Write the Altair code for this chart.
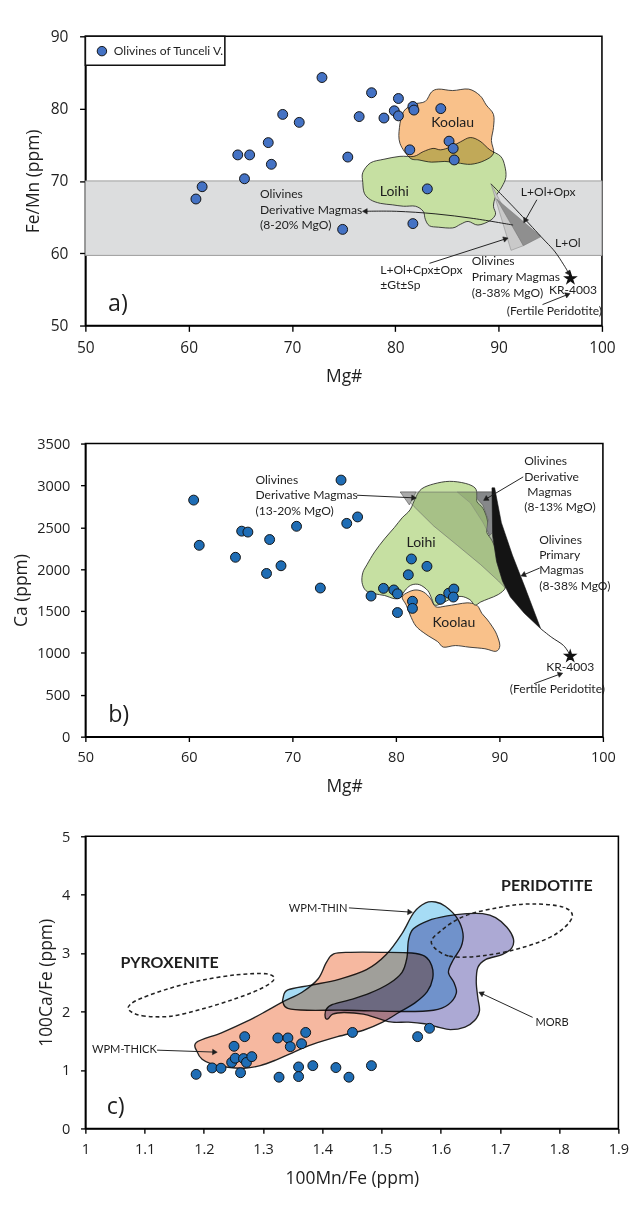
import math
import altair as alt
import pandas as pd

AX = "Open Sans"
AN = "Lato"
INK = "#1e1e1e"

# ---------------- Panel a data ----------------
a_mg = [60.7, 61.3, 64.75, 65.9, 65.4, 67.7, 68.0, 69.1, 70.7, 72.9, 75.4, 74.9, 76.5, 77.7,
        78.9, 79.9, 80.3, 80.3, 81.7, 81.8, 84.4, 81.4, 85.2, 85.6, 85.7, 83.1, 81.7]
a_femn = [67.5, 69.2, 73.6, 73.6, 70.3, 75.3, 72.3, 79.2, 78.1, 84.3, 73.3, 63.3, 78.9, 82.2,
          78.7, 79.7, 81.4, 79.0, 80.3, 79.8, 80.0, 74.3, 75.5, 74.5, 72.9, 68.9, 64.1]
a_band = [59.7, 70.0]
a_koolau_x = [81.4, 80.45, 80.4, 80.8, 81.8, 82.9, 83.5, 84.2, 85.55, 87.1, 88.2, 88.8, 89.5,
              89.5, 89.3, 89.5, 88.6, 87.3, 86.0, 84.8, 83.5, 82.3]
a_koolau_y = [73.2, 75.2, 77.4, 79.6, 80.6, 81.0, 82.3, 82.7, 82.5, 82.7, 81.8, 80.5, 79.2,
              77.4, 75.6, 73.8, 72.8, 72.3, 72.5, 72.7, 72.6, 72.9]
a_loihi_x = [76.85, 77.6, 78.9, 80.45, 81.8, 82.7, 83.65, 84.4, 85.35, 86.3, 87.25, 88.2, 89.15,
             90.2, 90.6, 90.7, 90.3, 89.7, 89.5, 89.7, 89.15, 88.0, 87.05, 86.3, 85.55, 84.2,
             83.3, 82.9, 82.7, 81.95, 80.8, 79.7, 78.55, 77.6, 77.0, 76.85]
a_loihi_y = [71.16, 72.5, 73.0, 73.4, 73.4, 74.05, 74.5, 74.3, 74.7, 75.4, 76.0, 75.5, 74.3,
             73.4, 72.05, 70.5, 69.15, 67.8, 66.5, 65.4, 64.5, 63.9, 64.4, 64.0, 63.5, 63.6,
             63.8, 64.7, 65.8, 66.5, 66.5, 66.7, 66.9, 67.4, 68.3, 69.8]
a_light_x = [89.26, 91.2, 92.4]
a_light_y = [69.6, 60.4, 61.05]
a_dark_x = [89.8, 92.4, 94.1]
a_dark_y = [67.5, 61.05, 62.3]
a_star = [96.95, 56.5]
a_legend_box = [50.0, 63.5, 86.0, 90.0]
a_legend_pt = [51.6, 87.95]
a_arrows = [
    ([91.4, 87.6, 83.85, 80.1, 77.05], [63.9, 64.8, 65.45, 65.8, 65.8]),
    ([93.7, 92.55], [67.4, 64.5]),
    ([83.3, 90.7], [58.6, 62.0]),
    ([94.25, 96.7], [52.9, 54.3]),
    ([89.26, 91.7, 94.1, 95.4, 96.3, 96.8], [69.6, 66.0, 62.3, 60.3, 58.4, 57.2]),
]
a_text_left = [("Olivines", 66.9, 68.2), ("Derivative Magmas", 66.9, 66.0), ("(8-20% MgO)", 66.9, 63.9),
               ("L+Ol+Cpx±Opx", 78.55, 57.7), ("±Gt±Sp", 78.55, 55.6),
               ("Olivines", 87.4, 58.9), ("Primary Magmas", 87.4, 56.7), ("(8-38% MgO)", 87.4, 54.5)]
a_text_center = [("L+Ol+Opx", 94.8, 68.5), ("L+Ol", 96.7, 61.4), ("KR-4003", 97.2, 54.9),
                 ("(Fertile Peridotite)", 95.4, 52.0)]
a_names = [("Koolau", 85.55, 78.0), ("Loihi", 79.9, 68.5)]

# ---------------- Panel b data ----------------
b_mg = [60.46, 61.0, 64.5, 65.1, 65.7, 67.8, 67.5, 68.9, 70.4, 72.7, 74.7, 75.25, 76.3, 77.6,
        78.8, 79.8, 80.15, 80.15, 81.5, 83.0, 81.2, 81.6, 81.6, 84.3, 85.1, 85.6, 85.55]
b_ca = [2825, 2285, 2142, 2454, 2443, 2354, 1949, 2041, 2512, 1775, 3064, 2547, 2624, 1679,
        1771, 1752, 1706, 1482, 2122, 2034, 1933, 1617, 1532, 1640, 1713, 1763, 1667]
b_loihi_x = [81.37, 81.94, 82.5, 83.65, 85.17, 86.7, 87.64, 87.83, 87.83, 88.4, 88.78, 88.9,
             88.78, 89.28, 89.73, 90.11, 90.42, 90.57, 89.9, 88.97, 88.2, 87.64, 87.15, 86.3,
             85.36, 84.4, 83.76, 83.46, 83.08, 82.3, 81.56, 81.0, 80.4, 79.85, 78.9, 77.95,
             77.1, 76.73, 76.8, 77.2, 77.95, 78.9, 79.85, 80.6]
b_loihi_y = [2709, 2863, 2960, 3018, 3049, 3025, 2971, 2883, 2805, 2728, 2613, 2516,
             2439, 2342, 2207, 2014, 1860, 1775, 1698, 1648, 1609, 1571, 1636, 1675,
             1648, 1590, 1571, 1648, 1744, 1814, 1814, 1764, 1667, 1648, 1686, 1706,
             1744, 1841, 1957, 2053, 2207, 2362, 2497, 2613]
b_koolau_x = [80.6, 81.0, 81.37, 81.94, 82.9, 84.03, 84.6, 85.74, 87.07, 88.6, 89.66, 90.04,
              89.73, 89.28, 88.78, 88.29, 88.0, 87.64, 86.88, 85.93, 84.8, 83.84, 83.35, 82.7,
              81.94, 81.18]
b_koolau_y = [1667, 1571, 1455, 1320, 1223, 1135, 1069, 1088, 1069, 1050, 1019, 1088,
              1223, 1320, 1405, 1474, 1544, 1582, 1598, 1582, 1559, 1551, 1648, 1725,
              1752, 1725]
b_region_x = [80.42, 89.35, 89.35, 89.73, 90.3, 90.57, 89.9, 88.2, 85.93, 83.65, 81.75]
b_region_y = [2921, 2921, 2400, 2092, 1860, 1775, 1860, 2053, 2285, 2516, 2748]
b_inner_x = [85.93, 89.35, 89.35, 88.4, 87.2]
b_inner_y = [2921, 2921, 2330, 2560, 2790]
b_gray_x = [87.83, 89.35, 89.35, 89.05, 88.78, 88.9, 88.4, 87.83]
b_gray_y = [2921, 2921, 2439, 2400, 2477, 2593, 2767, 2845]
b_wedge_x = [80.42, 81.94, 81.3]
b_wedge_y = [2921, 2921, 2767]
b_black_x = [89.28, 89.54, 90.19, 91.25, 92.47, 93.99, 92.4, 91.06, 90.3, 89.73, 89.35]
b_black_y = [2971, 2971, 2555, 2169, 1783, 1289, 1474, 1667, 1860, 2092, 2400]
b_star = [96.84, 961]
b_arrows = [
    ([76.24, 81.75], [2883, 2852]),
    ([92.3, 88.67], [3102, 2836]),
    ([93.9, 92.3], [2014, 1930]),
    ([93.35, 95.9], [633, 749]),
]
b_curve = ([93.99, 95.06, 96.2, 96.84], [1289, 1185, 1088, 972])
b_text_left = [("Olivines", 66.43, 3068), ("Derivative Magmas", 66.43, 2883), ("(13-20% MgO)", 66.43, 2698),
               ("Olivines", 92.4, 3288), ("Derivative", 92.4, 3102), ("Magmas", 92.7, 2921),
               ("(8-13% MgO)", 92.4, 2736),
               ("Olivines", 93.84, 2350), ("Primary", 93.84, 2169), ("Magmas", 93.84, 1984),
               ("(8-38% MgO)", 93.84, 1794)]
b_text_center = [("KR-4003", 96.84, 826), ("(Fertile Peridotite)", 95.6, 567)]
b_names = [("Loihi", 82.43, 2315), ("Koolau", 85.6, 1358)]

# ---------------- Panel c data ----------------
c_mn = [1.187, 1.214, 1.229, 1.247, 1.253, 1.251, 1.269, 1.262, 1.267, 1.272, 1.281, 1.325, 1.342,
        1.346, 1.365, 1.372, 1.327, 1.360, 1.360, 1.384, 1.423, 1.445, 1.451, 1.483, 1.561, 1.581]
c_ca = [0.926, 1.036, 1.031, 1.130, 1.202, 1.406, 1.571, 0.954, 1.196, 1.130, 1.229, 1.549, 1.549,
        1.400, 1.450, 1.643, 0.877, 1.053, 0.888, 1.075, 1.042, 0.877, 1.643, 1.075, 1.571, 1.714]
c_thick_x = [1.1873, 1.2298, 1.2733, 1.306, 1.3332, 1.3659, 1.3931, 1.4067, 1.4193, 1.4476, 1.502,
             1.551, 1.5728, 1.5848, 1.5864, 1.5772, 1.5565, 1.5293, 1.502, 1.4694, 1.4258, 1.3823,
             1.3496, 1.3224, 1.2951, 1.268, 1.2407, 1.2135, 1.1971, 1.189]
c_thick_y = [1.4716, 1.6369, 1.8353, 2.0116, 2.1658, 2.3311, 2.5625, 2.838, 2.9868, 3.0143, 3.0143,
             3.0033, 2.9482, 2.783, 2.5625, 2.3421, 2.1493, 1.984, 1.8187, 1.6809, 1.5708, 1.4331,
             1.2953, 1.1741, 1.0749, 1.031, 1.0474, 1.1025, 1.1851, 1.3063]
c_thin_x = [1.3338, 1.3418, 1.3816, 1.4282, 1.4747, 1.508, 1.5346, 1.5545, 1.5745, 1.5911, 1.6077,
            1.6277, 1.6376, 1.6343, 1.621, 1.613, 1.6223, 1.6263, 1.613, 1.5878, 1.5412, 1.4415,
            1.375, 1.3418, 1.3338]
c_thin_y = [2.2326, 2.3704, 2.4531, 2.5524, 2.7178, 2.9769, 3.3352, 3.6935, 3.8589, 3.8754, 3.8037,
            3.5998, 3.3352, 3.1036, 2.8831, 2.6737, 2.4973, 2.3153, 2.1224, 2.0232, 2.0011, 2.0232,
            2.0232, 2.0562, 2.1499]
c_morb_x = [1.4051, 1.4067, 1.4176, 1.4476, 1.4803, 1.513, 1.5347, 1.5429, 1.5456, 1.5538, 1.5783,
            1.611, 1.6436, 1.6708, 1.6926, 1.7117, 1.7226, 1.7198, 1.7035, 1.6763, 1.6627, 1.66,
            1.6627, 1.6654, 1.6572, 1.6409, 1.6164, 1.5946, 1.5728, 1.5456, 1.5184, 1.4966,
            1.4694, 1.4367, 1.4176, 1.4095]
c_morb_y = [1.9014, 2.0391, 2.1218, 2.2044, 2.3146, 2.4799, 2.6727, 2.9207, 3.2237, 3.4165, 3.5543,
            3.6369, 3.6755, 3.6755, 3.6094, 3.4441, 3.2512, 3.0859, 2.9758, 2.8931, 2.7554, 2.5074,
            2.2319, 2.0116, 1.8463, 1.7361, 1.692, 1.7361, 1.7912, 1.8187, 1.8187, 1.8738,
            1.9565, 1.9841, 1.9565, 1.8738]
c_pyx_x = [1.0738, 1.0957, 1.1423, 1.1955, 1.2487, 1.2952, 1.3185, 1.3052, 1.2553, 1.1955, 1.1423,
           1.0957, 1.0758]
c_pyx_y = [2.0232, 1.9295, 1.9184, 2.0397, 2.2051, 2.387, 2.5524, 2.6461, 2.6296, 2.5358, 2.398,
           2.2326, 2.1224]
c_per_x = [1.5844, 1.6144, 1.6742, 1.7407, 1.7939, 1.8218, 1.8072, 1.754, 1.7008, 1.641, 1.6011]
c_per_y = [3.1698, 2.9493, 2.9603, 3.1036, 3.3242, 3.6108, 3.7872, 3.8423, 3.7872, 3.6384, 3.3903]
c_arrows = [
    ([1.445, 1.5483], [3.775, 3.703]),
    ([1.7552, 1.6681], [1.9014, 2.3146]),
    ([1.121, 1.2187], [1.34, 1.3065]),
]
c_bold = [("PYROXENITE", 1.1423, 2.828), ("PERIDOTITE", 1.7793, 4.151)]
c_small = [("WPM-THIN", 1.393, 3.758), ("MORB", 1.788, 1.808), ("WPM-THICK", 1.0658, 1.34)]

STAR = ("M0,-1L0.2245,-0.309L0.951,-0.309L0.363,0.118L0.588,0.809L0,0.382"
        "L-0.588,0.809L-0.363,0.118L-0.951,-0.309L-0.2245,-0.309Z")


class Panel:
    def __init__(self, xdom, ydom, w, h, xaxis, yaxis):
        self.sx = alt.Scale(domain=xdom, nice=False, zero=False)
        self.sy = alt.Scale(domain=ydom, nice=False, zero=False)
        self.kx = w / (xdom[1] - xdom[0])
        self.ky = h / (ydom[1] - ydom[0])
        self.ax = xaxis
        self.ay = yaxis
        self.w = w
        self.h = h

    def xy(self, xf="x", yf="y"):
        return dict(x=alt.X(f"{xf}:Q", scale=self.sx, axis=self.ax),
                    y=alt.Y(f"{yf}:Q", scale=self.sy, axis=self.ay))


def poly(P, xs, ys, fill, stroke="#2b2b2b", sw=1.0, interp="cardinal-closed", fop=1.0,
         blend=None, dash=None):
    df = pd.DataFrame({"x": xs, "y": ys, "i": list(range(len(xs)))})
    kw = dict(interpolate=interp, fill=fill, stroke=stroke, strokeWidth=sw, fillOpacity=fop)
    if blend:
        kw["blend"] = blend
    if dash:
        kw["strokeDash"] = dash
    return alt.Chart(df).mark_line(**kw).encode(**P.xy(), order="i:Q")


def arrows(P, arrs, heads=True, interp="cardinal"):
    rows, hrows = [], []
    for k, (xs, ys) in enumerate(arrs):
        for i, (x, y) in enumerate(zip(xs, ys)):
            rows.append({"x": x, "y": y, "i": i, "k": k})
        if heads:
            dx = (xs[-1] - xs[-2]) * P.kx
            dy = (ys[-1] - ys[-2]) * P.ky
            ang = math.degrees(math.atan2(dx, dy)) % 360
            hrows.append({"x": xs[-1], "y": ys[-1], "a": ang})
    layers = [alt.Chart(pd.DataFrame(rows)).mark_line(
        interpolate=interp, stroke=INK, strokeWidth=1.0).encode(**P.xy(), order="i:Q", detail="k:N")]
    if heads:
        layers.append(alt.Chart(pd.DataFrame(hrows)).mark_point(
            shape="triangle-up", filled=True, fill=INK, stroke=INK, strokeWidth=0.5, size=32,
            opacity=1).encode(**P.xy(), angle=alt.Angle("a:Q", scale=None)))
    return layers


def texts(P, items, align="left", size=12.5, font=AN, weight="normal", color=INK):
    df = pd.DataFrame([{"t": t, "x": x, "y": y} for t, x, y in items])
    return alt.Chart(df).mark_text(align=align, baseline="middle", font=font, fontSize=size,
                                   fontWeight=weight, color=color).encode(**P.xy(), text="t:N")


def points(P, xs, ys, color, size=105):
    df = pd.DataFrame({"x": xs, "y": ys})
    return alt.Chart(df).mark_point(shape="circle", filled=True, fill=color, stroke="#111111",
                                    strokeWidth=1.0, size=size, opacity=1).encode(**P.xy())


def star(P, x, y):
    return alt.Chart(pd.DataFrame({"x": [x], "y": [y]})).mark_point(
        shape=STAR, filled=True, fill="#111111", stroke="#111111", size=90, opacity=1).encode(**P.xy())


def bound(left, top, bottom):
    return alt.Chart(pd.DataFrame({"k": [0]})).mark_rule(opacity=0, strokeWidth=0).encode(
        x=alt.value(left), y=alt.value(top), y2=alt.value(bottom))


def axis(values, title, size, orient, tick, pad, tpos, fmt=None):
    kw = dict(values=values, title=title, labelFontSize=size, titleFontSize=18, tickSize=tick,
              labelPadding=pad, grid=False, labelFlush=False, titleBaseline="middle")
    if orient == "x":
        kw["titleY"] = tpos
    else:
        kw["titleX"] = tpos
    if fmt:
        kw["format"] = fmt
    return alt.Axis(**kw)


# ---------------- Panel a ----------------
WA, HA = 534, 299
PA = Panel([50, 100], [50, 90], WA, HA,
           axis([50, 60, 70, 80, 90, 100], "Mg#", 16, "x", 6, 9, 53),
           axis([50, 60, 70, 80, 90], "Fe/Mn (ppm)", 16, "y", 6, 12, -53))

band = alt.Chart(pd.DataFrame({"y": [a_band[0]], "y2": [a_band[1]]})).mark_rect(
    fill="#dcddde", stroke="#9a9a9a", strokeWidth=1).encode(
    x=alt.value(0), x2=alt.value(WA),
    y=alt.Y("y:Q", scale=PA.sy, axis=PA.ay), y2="y2:Q")

legend_box = alt.Chart(pd.DataFrame({"x": [a_legend_box[0]], "x2": [a_legend_box[1]],
                                     "y": [a_legend_box[2]], "y2": [a_legend_box[3]]})).mark_rect(
    fill="white", stroke="#111111", strokeWidth=1.6).encode(**PA.xy(), x2="x2:Q", y2="y2:Q")

layers_a = [
    band,
    poly(PA, a_loihi_x, a_loihi_y, "#c6e0a2", sw=0.9),
    poly(PA, a_koolau_x, a_koolau_y, "#f9c18a", sw=0.9, blend="multiply"),
    poly(PA, a_light_x, a_light_y, "#c9c9c9", stroke="#8a8a8a", sw=0.6, interp="linear-closed"),
    poly(PA, a_dark_x, a_dark_y, "#8f8f8f", stroke="#777777", sw=0.6, interp="linear-closed"),
    *arrows(PA, a_arrows),
    points(PA, a_mg, a_femn, "#4472c4"),
    star(PA, *a_star),
    texts(PA, a_text_left),
    texts(PA, a_text_center, align="center"),
    texts(PA, a_names, align="center", size=14.5),
    texts(PA, [("a)", 52.2, 53.0)], size=24, font=AX),
    legend_box,
    points(PA, [a_legend_pt[0]], [a_legend_pt[1]], "#4472c4", size=95),
    texts(PA, [("Olivines of Tunceli V.", 52.75, 87.95)], size=12.5),
    bound(-79, -8, 384),
]
pa = alt.layer(*layers_a).properties(width=WA, height=HA)

# ---------------- Panel b ----------------
WB, HB = 535, 303
PB = Panel([50, 100], [0, 3500], WB, HB,
           axis([50, 60, 70, 80, 90, 100], "Mg#", 15, "x", 5, 9, 52),
           axis([0, 500, 1000, 1500, 2000, 2500, 3000, 3500], "Ca (ppm)", 15, "y", 5, 11, -65.5, "d"))

layers_b = [
    poly(PB, b_koolau_x, b_koolau_y, "#f9c18a", sw=0.9),
    poly(PB, b_loihi_x, b_loihi_y, "#c6e0a2", sw=0.9),
    poly(PB, b_region_x, b_region_y, "#5f7a4a", stroke="#666666", sw=0.6, fop=0.3,
         interp="linear-closed"),
    poly(PB, b_inner_x, b_inner_y, "#5f7a4a", stroke="#777777", sw=0.4, fop=0.22,
         interp="linear-closed"),
    poly(PB, b_gray_x, b_gray_y, "#86888a", stroke="#555555", sw=0.6, interp="linear-closed"),
    poly(PB, b_wedge_x, b_wedge_y, "#a9a9a9", stroke="#555555", sw=0.6, interp="linear-closed"),
    poly(PB, b_black_x, b_black_y, "#141414", stroke="#141414", sw=0.6, interp="linear-closed"),
    *arrows(PB, b_arrows),
    *arrows(PB, [b_curve], heads=False),
    points(PB, b_mg, b_ca, "#1f6db5"),
    star(PB, *b_star),
    texts(PB, b_text_left),
    texts(PB, b_text_center, align="center"),
    texts(PB, b_names, align="center", size=14.5),
    texts(PB, [("b)", 52.2, 260)], size=24, font=AX),
    bound(-75, -35, 377),
]
pb = alt.layer(*layers_b).properties(width=WB, height=HB)

# ---------------- Panel c ----------------
WC, HC = 551, 302
PC = Panel([1.0, 1.9], [0, 5], WC, HC,
           axis([1.0, 1.1, 1.2, 1.3, 1.4, 1.5, 1.6, 1.7, 1.8, 1.9], "100Mn/Fe (ppm)", 15, "x", 5, 9, 52, "~g"),
           axis([0, 1, 2, 3, 4, 5], "100Ca/Fe (ppm)", 15, "y", 5, 11, -39.5))

layers_c = [
    poly(PC, c_thick_x, c_thick_y, "#f6b8a0", stroke="#222222", sw=1.4, blend="multiply"),
    poly(PC, c_morb_x, c_morb_y, "#aca9d4", stroke="#222222", sw=1.4, blend="multiply"),
    poly(PC, c_thin_x, c_thin_y, "#a6dcf5", stroke="#222222", sw=1.4, blend="multiply"),
    poly(PC, c_pyx_x, c_pyx_y, "transparent", stroke="#222222", sw=1.6, dash=[4, 3]),
    poly(PC, c_per_x, c_per_y, "transparent", stroke="#222222", sw=1.6, dash=[4, 3]),
    *arrows(PC, c_arrows),
    points(PC, c_mn, c_ca, "#1f6db5"),
    texts(PC, c_bold, align="center", size=16.5, weight="bold"),
    texts(PC, c_small, align="center", size=11.5),
    texts(PC, [("c)", 1.036, 0.36)], size=24, font=AX),
    bound(-68, -27, 364),
]
pc = alt.layer(*layers_c).properties(width=WC, height=HC)

chart = alt.ConcatChart(concat=[pa, pb, pc], columns=1, spacing=0, align="none",
                        bounds="full").properties(padding=0).configure_view(
    stroke="black", strokeWidth=1.6).configure_axis(
    domainColor="black", domainWidth=1.6, tickColor="black", tickWidth=1.4,
    labelColor=INK, titleColor=INK, labelFont=AX, titleFont=AX, titleFontWeight="normal")

chart.save("out.html", embed_options={"renderer": "svg", "actions": False})
